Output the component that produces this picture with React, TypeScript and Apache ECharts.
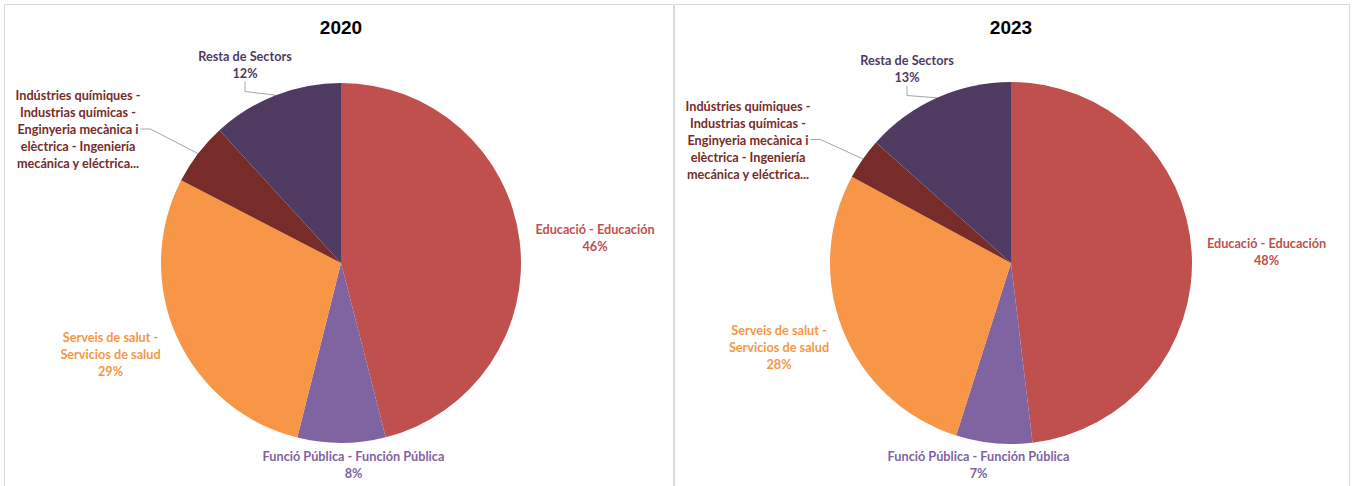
import React, { useEffect, useRef } from "react";
import * as echarts from "echarts";

const categories = [
  "Educació - Educación",
  "Funció Pública - Función Pública",
  "Serveis de salut -\nServicios de salud",
  "Indústries químiques -\nIndustrias químicas -\nEnginyeria mecànica i\nelèctrica - Ingeniería\nmecánica y eléctrica...",
  "Resta de Sectors",
];
const values2020 = [46.0, 7.9, 28.7, 5.6, 11.8];
const values2023 = [48.1, 6.8, 28.0, 3.7, 13.4];
const years = ["2020", "2023"];
const colors = ["#C0504D", "#8064A2", "#F79646", "#772C2A", "#4F3B62"];
const showPercent = [true, true, true, false, true];
const showLeader = [false, false, false, true, true];

// label centre positions (layout only)
const labelPos = [
  [[595, 237.5], [353.5, 464], [110.5, 353.5], [78, 129], [245, 64.5]],
  [[1266.5, 251.5], [978.5, 464], [779, 346.5], [748, 139.5], [907, 68.5]],
];

export default function App() {
  const ref = useRef<HTMLDivElement>(null);
  useEffect(() => {
    document.body.style.margin = "0";
    const chart = echarts.init(ref.current!, null, { renderer: "svg" });
    const makeSeries = (vals: number[], idx: number, center: number[], r: number) => ({
      type: "pie",
      center,
      radius: r,
      startAngle: 90,
      clockwise: true,
      silent: true,
      data: vals.map((v, i) => ({
        name: categories[i],
        value: v,
        itemStyle: { color: colors[i] },
        label: { color: colors[i] },
        labelLine: { show: showLeader[i] },
      })),
      label: {
        show: true,
        position: "outside",
        fontFamily: "Lato",
        fontWeight: "bold",
        fontSize: 12.7,
        lineHeight: 17,
        align: "center",
        formatter: (p: any) =>
          showPercent[p.dataIndex] ? `${p.name}\n${Math.round(p.percent)}%` : p.name,
      },
      labelLine: {
        show: true,
        length: 10,
        length2: 10,
        lineStyle: { color: "#A6A6A6", width: 1 },
      },
      labelLayout: (p: any) => {
        const pos = labelPos[idx][p.dataIndex];
        return { x: pos[0], y: pos[1], align: "center", verticalAlign: "middle" };
      },
    });
    const titleStyle = {
      fontFamily: "Liberation Sans",
      fontWeight: "bold",
      fontSize: 19,
      fill: "#000",
      textAlign: "center",
      textVerticalAlign: "middle",
    };
    chart.setOption({
      animation: false,
      backgroundColor: "#ffffff",
      graphic: [
        {
          type: "rect",
          shape: { x: 4.5, y: 4.5, width: 669, height: 490 },
          style: { fill: "none", stroke: "#D9D9D9", lineWidth: 1 },
          silent: true,
        },
        {
          type: "rect",
          shape: { x: 674.5, y: 4.5, width: 675, height: 490 },
          style: { fill: "none", stroke: "#D9D9D9", lineWidth: 1 },
          silent: true,
        },
        { type: "text", x: 341, y: 27, style: { ...titleStyle, text: years[0] }, silent: true },
        { type: "text", x: 1011, y: 27, style: { ...titleStyle, text: years[1] }, silent: true },
      ],
      series: [
        makeSeries(values2020, 0, [341, 263], 180),
        makeSeries(values2023, 1, [1011, 263], 181),
      ],
    });
    return () => chart.dispose();
  }, []);
  return <div ref={ref} style={{ width: 1353, height: 486 }} />;
}
